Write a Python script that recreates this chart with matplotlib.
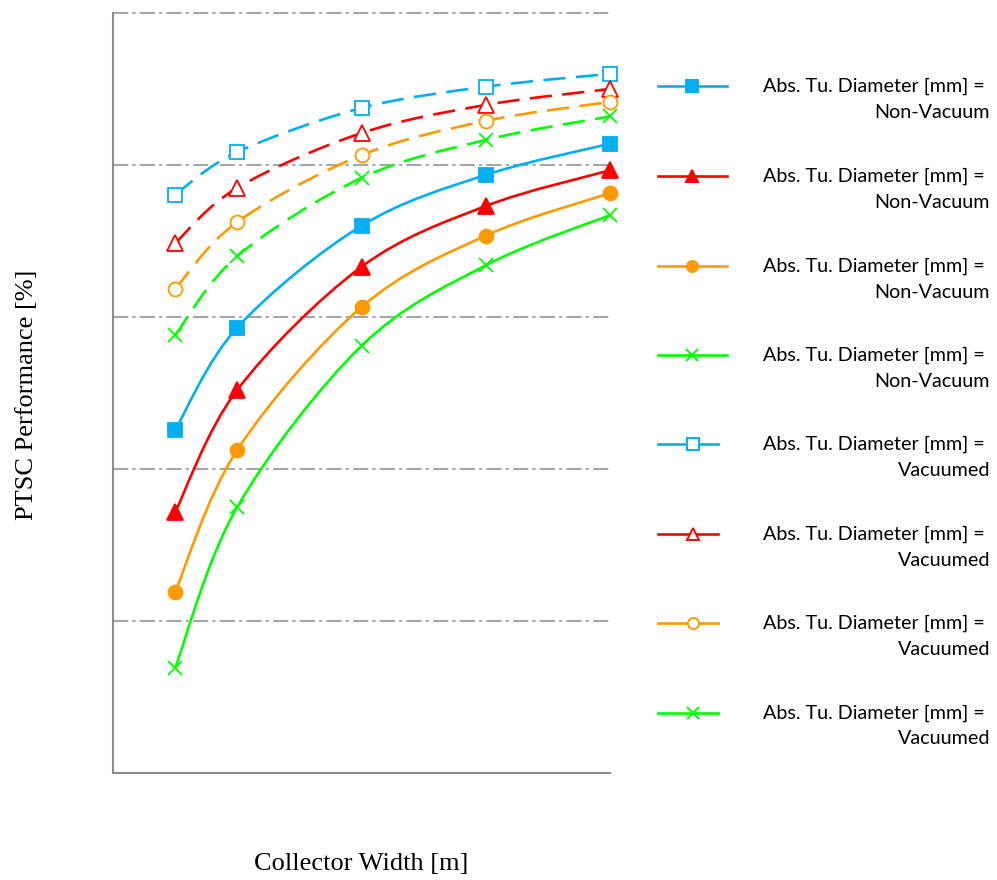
import numpy as np
import matplotlib
matplotlib.use("Agg")
import matplotlib.pyplot as plt
from matplotlib.path import Path
from matplotlib.patches import PathPatch
from matplotlib.lines import Line2D

# Collector widths [m]
widths = [0.5, 1, 2, 3, 4]

# PTSC performance [%] for each absorber-tube case
nv_blue = [45.1, 58.6, 72.0, 78.7, 82.8]
nv_red = [34.3, 50.4, 66.6, 74.6, 79.3]
nv_orange = [23.8, 42.5, 61.3, 70.7, 76.3]
nv_green = [13.8, 35.0, 56.2, 66.8, 73.4]
vac_blue = [76.1, 81.7, 87.5, 90.3, 92.0]
vac_red = [69.7, 77.0, 84.2, 87.9, 90.0]
vac_orange = [63.7, 72.5, 81.3, 85.8, 88.3]
vac_green = [57.6, 68.0, 78.3, 83.3, 86.4]

series_labels = ["Non-Vacuum"] * 4 + ["Vacuumed"] * 4
grid_levels = [20, 40, 60, 80, 100]

BLUE = "#00B0F0"
RED = "#FF0000"
ORANGE = "#FF9900"
GREEN = "#00FF00"
GRID = "#8C8C8C"

plt.rcParams["lines.scale_dashes"] = False

W, H = 997, 880
fig = plt.figure(figsize=(W / 100, H / 100), dpi=100)
ax = fig.add_axes([113 / W, 107 / H, 497 / W, 760 / H])
ax.set_xlim(0, 4)
ax.set_ylim(0, 100)

for s in ("top", "right"):
    ax.spines[s].set_visible(False)
for s in ("left", "bottom"):
    ax.spines[s].set_color(GRID)
    ax.spines[s].set_linewidth(1.5)
ax.set_xticks([])
ax.set_yticks([])

grid_dash = (0, (11, 3, 2.2, 3))
for g in grid_levels:
    ax.axhline(g, color=GRID, lw=1.1, linestyle=grid_dash, clip_on=False, zorder=1)


def smooth_path(x, y):
    """Cubic Bezier path through the points (Catmull-Rom style smoothing)."""
    pts = np.column_stack([x, y]).astype(float)
    n = len(pts)
    verts = [pts[0]]
    codes = [Path.MOVETO]
    for i in range(n - 1):
        p0 = pts[i - 1] if i > 0 else pts[i]
        p1 = pts[i]
        p2 = pts[i + 1]
        p3 = pts[i + 2] if i + 2 < n else pts[i + 1]
        c1 = p1 + (p2 - p0) / 6.0
        c2 = p2 - (p3 - p1) / 6.0
        verts += [c1, c2, p2]
        codes += [Path.CURVE4] * 3
    return Path(verts, codes)


vac_dash = (0, (16, 7.5))
series = [
    (nv_blue, BLUE, "s", True, "-"),
    (nv_red, RED, "^", True, "-"),
    (nv_orange, ORANGE, "o", True, "-"),
    (nv_green, GREEN, "x", True, "-"),
    (vac_blue, BLUE, "s", False, vac_dash),
    (vac_red, RED, "^", False, vac_dash),
    (vac_orange, ORANGE, "o", False, vac_dash),
    (vac_green, GREEN, "x", False, vac_dash),
]

LW = 1.9
for vals, color, marker, filled, ls in series:
    patch = PathPatch(smooth_path(widths, vals), facecolor="none", edgecolor=color,
                      lw=LW, linestyle=ls, clip_on=False, zorder=3)
    ax.add_patch(patch)
    face = color if (filled or marker == "x") else "white"
    ms = 11 if marker == "^" else 10
    ax.plot(widths, vals, linestyle="none", marker=marker, markersize=ms,
            markerfacecolor=face, markeredgecolor=color, markeredgewidth=1.3,
            clip_on=False, zorder=4)

# Axis titles
fig.text(361 / W, 1 - 864 / H, "Collector Width [m]", ha="center", va="center",
         fontfamily="Liberation Serif", fontsize=19)
fig.text(27 / W, 1 - 395 / H, "PTSC Performance [%]", ha="center", va="center",
         rotation=90, fontfamily="Liberation Serif", fontsize=19)

# Legend drawn in figure pixel space
legend_y = [86, 176, 266, 355, 444, 534, 623, 713]
for (vals, color, marker, filled, ls), lab, yc in zip(series, series_labels, legend_y):
    yf = 1 - yc / H
    if filled:
        x0, x1, xm = 658, 727, 692
    else:
        x0, x1, xm = 658, 718, 693
    fig.add_artist(Line2D([x0 / W, x1 / W], [yf, yf], color=color, lw=LW,
                          transform=fig.transFigure))
    fig.add_artist(Line2D([xm / W], [yf], marker=marker,
                          markersize=8 if marker != "x" else 9,
                          markerfacecolor=(color if filled else "white"),
                          markeredgecolor=color, markeredgewidth=1.4,
                          linestyle="none", transform=fig.transFigure))
    fig.text(985 / W, yf, "Abs. Tu. Diameter [mm] =", ha="right", va="center",
             fontfamily="Lato", fontsize=14.2)
    fig.text(990 / W, 1 - (yc + 26) / H, lab, ha="right", va="center",
             fontfamily="Lato", fontsize=14.2)

fig.savefig("out.png", dpi=100)
